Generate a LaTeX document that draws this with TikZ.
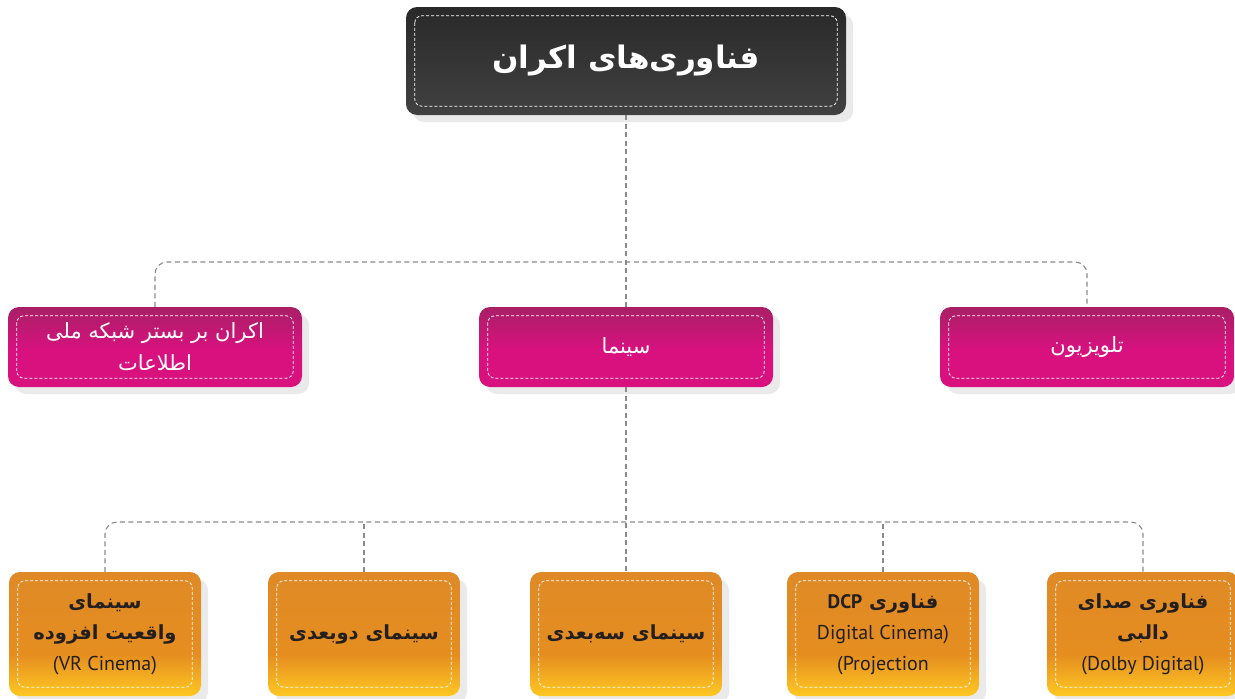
\documentclass[tikz,border=0pt]{standalone}
\usepackage{fontspec}
\setmainfont{PT Sans}
\newfontfamily\fa[Script=Arabic]{DejaVu Sans}
\TeXXeTstate=1
\usepackage{tikz}
\usetikzlibrary{shadows}
\usepackage{xcolor}
\definecolor{darktop}{HTML}{2A2929}
\definecolor{darkbot}{HTML}{424141}
\definecolor{magtop}{HTML}{A91F66}
\definecolor{magbot}{HTML}{D8117F}
\definecolor{oratop}{HTML}{DF8A27}
\definecolor{oramid}{HTML}{E58D1F}
\definecolor{orabot}{HTML}{FEC823}
\definecolor{inkdark}{HTML}{231F20}
\definecolor{linkgray}{HTML}{8A8A8A}
\pgfdeclareverticalshading{magshade}{100bp}{color(0bp)=(magbot); color(25bp)=(magbot); color(48bp)=(magbot); color(75bp)=(magtop); color(100bp)=(magtop)}
\pgfdeclareverticalshading{orashade}{100bp}{color(0bp)=(orabot); color(25bp)=(orabot); color(42bp)=(oramid); color(75bp)=(oratop); color(100bp)=(oratop)}
\tikzset{
  box/.style={rounded corners=11pt, align=center,
    drop shadow={shadow xshift=7pt, shadow yshift=-7pt, fill=black!16}},
  headbox/.style={box, top color=darktop, bottom color=darkbot, text=white,
    minimum width=440pt, minimum height=108pt, font=\fa\bfseries\fontsize{31}{36}\selectfont},
  catbox/.style={box, shade, shading=magshade, text=white,
    minimum width=294pt, minimum height=80pt, font=\fa\fontsize{21}{32}\selectfont},
  leafbox/.style={box, shade, shading=orashade, text=inkdark,
    minimum width=192pt, minimum height=124pt, font=\fa\bfseries\fontsize{19.5}{31}\selectfont},
  latin/.style={font=\rmfamily\mdseries\fontsize{20}{31}\selectfont},
  innerdash/.style={white, dash pattern=on 3pt off 2pt, line width=0.8pt, rounded corners=7pt},
  link/.style={linkgray, dash pattern=on 5pt off 3.5pt, line width=1.1pt, rounded corners=12pt},
}
\newcommand{\lat}[1]{{\rmfamily\mdseries\fontsize{20}{31}\selectfont #1}}

\begin{document}
\begin{tikzpicture}[x=1pt, y=-1pt]
  \useasboundingbox (0,0) rectangle (1235,699);
  % top
  \node[headbox] (ekran) at (626,61) {\beginR فناوری‌های اکران\endR};
  % second row
  \node[catbox] (ettela) at (155,347) {\beginR اکران بر بستر شبکه ملی\endR\\\beginR اطلاعات\endR};
  \node[catbox] (sinema) at (626,347) {\beginR سینما\endR};
  \node[catbox] (tv) at (1087,347) {\beginR تلویزیون\endR};
  % third row
  \node[leafbox] (vr) at (105,634) {\beginR سینمای\endR\\\beginR واقعیت افزوده\endR\\\lat{(VR Cinema)}};
  \node[leafbox] (dob) at (364,634) {\beginR سینمای دوبعدی\endR};
  \node[leafbox] (seb) at (626,634) {\beginR سینمای سه‌بعدی\endR};
  \node[leafbox] (dcp) at (883,634) {\beginR فناوری \beginL{\rmfamily DCP}\endL\endR\\\lat{Digital Cinema)}\\\lat{(Projection}};
  \node[leafbox] (dolby) at (1143,634) {\beginR فناوری صدای\endR\\\beginR دالبی\endR\\\lat{(Dolby Digital)}};
  % inner dashed frames
  \foreach \n in {ekran,ettela,sinema,tv,vr,dob,seb,dcp,dolby}
    \draw[innerdash] ([shift={(9pt,-9pt)}]\n.north west) rectangle ([shift={(-9pt,9pt)}]\n.south east);
  % connectors
  \coordinate (busa) at (626,262);
  \coordinate (busb) at (626,522);
  \draw[link] (ettela.north) |- (busa) -| (tv.north);
  \draw[link] (ekran.south) -- (sinema.north);
  \draw[link] (vr.north) |- (busb) -| (dolby.north);
  \draw[link] (sinema.south) -- (seb.north);
  \draw[link] (dob.north) -- (dob.north |- busb);
  \draw[link] (dcp.north) -- (dcp.north |- busb);
\end{tikzpicture}
\end{document}
